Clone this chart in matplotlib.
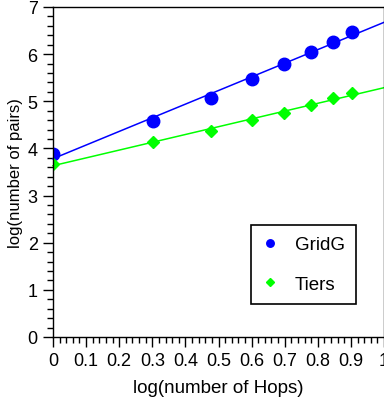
import numpy as np
import matplotlib.pyplot as plt
from matplotlib.ticker import MultipleLocator

plt.rcParams['font.family'] = ['Liberation Sans', 'DejaVu Sans']

# log(number of hops), hops 1..8
hops = [1, 2, 3, 4, 5, 6, 7, 8]
logHops = np.log10(hops)

# log(number of pairs)
gridG = [3.88, 4.59, 5.08, 5.47, 5.79, 6.05, 6.26, 6.46]
tiers = [3.68, 4.13, 4.36, 4.60, 4.76, 4.92, 5.06, 5.18]

fig = plt.figure(figsize=(3.84, 4.02), dpi=100)
ax = fig.add_axes([53/384, 1-338/402, 331/384, 330/402])

xs = np.array([0, 1])
for vals, col, mk, ms, name in [(gridG, 'blue', 'o', 9, 'GridG'), (tiers, 'lime', 'D', 6.5, 'Tiers')]:
    # linear fit line over whole axis
    slope, icpt = np.polyfit(logHops, vals, 1)
    ax.plot(xs, slope*xs + icpt, color=col, lw=1.1, clip_on=False)
    ax.plot(logHops, vals, linestyle='none', marker=mk, color=col, ms=ms, label=name)

ax.set_xlim(0, 1)
ax.set_ylim(0, 7)
ax.xaxis.set_major_locator(MultipleLocator(0.1))
ax.xaxis.set_minor_locator(MultipleLocator(0.02))
ax.yaxis.set_major_locator(MultipleLocator(1))
ax.yaxis.set_minor_locator(MultipleLocator(0.2))
ax.set_xticks(np.arange(0, 1.01, 0.1))
ax.set_xticklabels(['0', '0.1', '0.2', '0.3', '0.4', '0.5', '0.6', '0.7', '0.8', '0.9', '1'])
ax.tick_params(which='major', direction='out', length=7, width=1, labelsize=13, pad=4, top=False, right=False)
ax.tick_params(which='minor', direction='out', length=4, width=1, top=False, right=False)
for s in ax.spines.values():
    s.set_linewidth(1)

ax.set_xlabel('log(number of Hops)', fontsize=13.5, labelpad=7)
ax.set_ylabel('log(number of pairs)', fontsize=12, labelpad=3)

leg = ax.legend(loc='lower right', bbox_to_anchor=(0.915, 0.1), borderaxespad=0,
                markerscale=0.6, fontsize=13.5,
                fancybox=False, edgecolor='black', framealpha=1, handlelength=0.8,
                labelspacing=1.2, borderpad=0.6, handletextpad=0.9)
leg.get_frame().set_linewidth(1.2)

fig.savefig('out.png', dpi=100)
